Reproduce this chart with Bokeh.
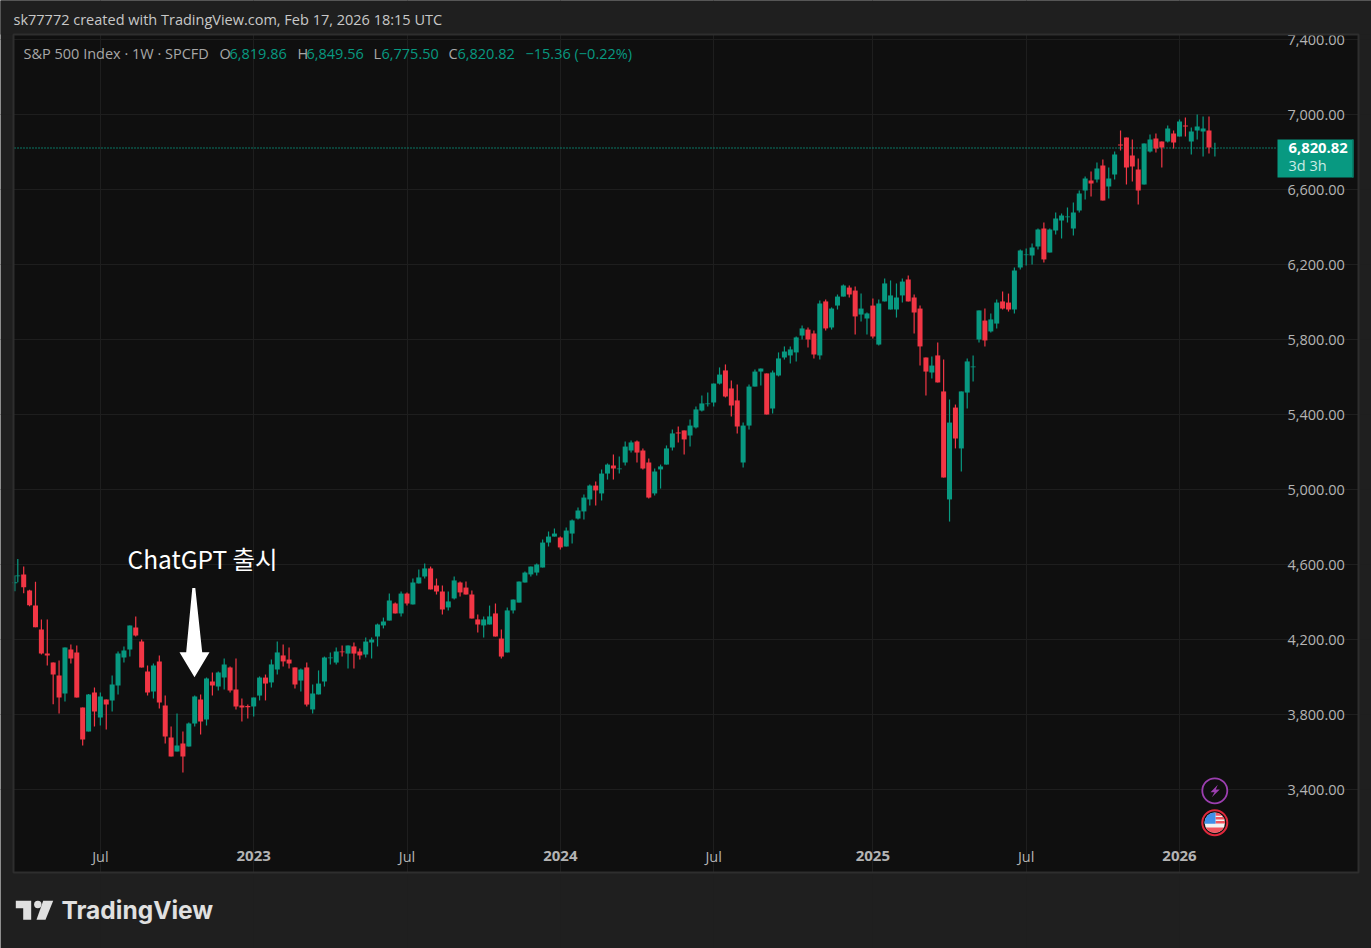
from bokeh.plotting import figure
from bokeh.embed import file_html
from bokeh.resources import INLINE
from bokeh.core.properties import value
from bokeh.models import LinearAxis, FixedTicker, NumeralTickFormatter, Range1d, Grid
import numpy as np

opens = [4500,4538,4547,4461,4381,4253,4125,4077,4008,3912,4147,4131,3837,3709,3917,3784,3880,3875,3955,4104,
4147,4264,4189,4029,3923,4083,3848,3677,3603,3645,3629,3752,3880,3773,3976,3949,3997,4051,3933,3848,
3846,3843,3901,3997,3971,4040,4115,4093,4051,3981,4051,3827,3907,3976,4100,4077,4136,4125,4163,4136,
4120,4184,4216,4275,4301,4392,4339,4445,4387,4499,4536,4579,4488,4456,4371,4419,4504,4477,4440,4307,
4275,4280,4339,4205,4131,4355,4397,4504,4547,4557,4584,4717,4749,4744,4696,4765,4845,4883,4947,5021,
4979,5085,5128,5108,5144,5208,5256,5208,5144,4979,5107,5133,5224,5304,5315,5288,5331,5421,5455,5464,
5565,5635,5539,5475,5144,5341,5549,5629,5619,5432,5608,5704,5715,5731,5821,5853,5832,5715,6003,5864,
5981,6029,6077,6061,5933,5912,5981,5773,6003,5960,5960,6035,6120,6024,5965,5704,5624,5715,5523,4947,
5437,5219,5517,5652,5800,5901,5843,5885,6003,5997,5960,6184,6250,6248,6296,6392,6264,6381,6435,6452,
6392,6488,6595,6648,6653,6728,6616,6680,6840,6877,6781,6707,6627,6803,6872,6856,6856,6899,6883,6941,
6856,6915,6909,6915,6819.86]
highs = [4541,4630,4589,4465,4508,4307,4307,4077,4088,4157,4173,4168,3837,3910,3944,3917,3880,4008,4136,4163,
4275,4323,4200,4061,4072,4115,3901,3736,3805,3709,3757,3901,3907,3997,4024,4029,4099,4056,4099,3885,
3853,3891,4003,4013,4093,4189,4173,4157,4051,4045,4077,3960,4035,4109,4131,4157,4168,4168,4184,4152,
4211,4211,4285,4317,4445,4397,4456,4451,4525,4573,4605,4589,4525,4488,4456,4536,4509,4509,4461,4333,
4323,4381,4392,4253,4371,4413,4509,4563,4589,4605,4733,4776,4792,4749,4797,4840,4904,4973,5027,5043,
5107,5139,5187,5176,5256,5261,5261,5219,5165,5112,5133,5235,5320,5336,5315,5373,5443,5501,5517,5565,
5651,5667,5581,5560,5357,5560,5640,5645,5619,5635,5731,5763,5763,5816,5875,5864,5848,6008,6013,5971,
6040,6093,6088,6083,6045,5944,6019,6013,6125,6115,6099,6125,6141,6040,5981,5704,5709,5784,5693,5480,
5453,5523,5699,5715,5955,5965,5939,6013,6056,6045,6184,6280,6285,6312,6392,6424,6392,6477,6472,6504,
6531,6595,6669,6696,6744,6760,6717,6803,6915,6877,6867,6765,6845,6893,6899,6856,6941,6915,6973,6984,
6931,7000,6989,6989,6849.56]
lows = [4458,4506,4447,4378,4266,4120,4061,3855,3805,3869,4072,3891,3635,3709,3736,3741,3720,3816,3907,4077,
4109,4216,4051,3901,3885,3832,3645,3576,3603,3491,3629,3736,3693,3741,3901,3928,3933,3917,3827,3763,
3779,3789,3875,3875,3944,4013,4056,4045,3939,3923,3843,3805,3907,3949,4067,4067,4109,4045,4045,4093,
4104,4099,4163,4259,4301,4339,4323,4381,4387,4499,4525,4467,4440,4333,4355,4413,4429,4440,4312,4237,
4211,4280,4216,4099,4131,4339,4397,4504,4536,4541,4584,4696,4749,4680,4696,4712,4840,4840,4915,4915,
4941,5053,5053,5085,5128,5197,5144,5107,4952,4968,5005,5133,5208,5251,5187,5229,5325,5416,5443,5443,
5560,5491,5389,5299,5117,5320,5549,5555,5400,5405,5603,5693,5672,5683,5800,5757,5699,5693,5848,5853,
5960,6029,6024,5827,5896,5827,5805,5768,6003,5960,5917,5997,6003,5832,5661,5501,5592,5571,5064,4829,
5219,5096,5432,5576,5784,5763,5837,5859,5960,5949,5939,6173,6195,6200,6280,6211,6264,6360,6339,6424,
6355,6477,6547,6563,6637,6541,6552,6653,6808,6627,6643,6520,6627,6797,6797,6717,6851,6819,6883,6883,
6787,6867,6776,6792,6775.50]
closes = [4505,4542,4479,4383,4266,4125,4115,4013,3891,4157,4099,3891,3667,3907,3816,3896,3853,3960,4125,4141,
4275,4221,4051,3917,4061,3864,3683,3576,3635,3576,3752,3896,3763,3992,3955,4024,4067,3928,3843,3837,
3839,3891,3997,3965,4067,4131,4083,4072,3960,4040,3853,3912,3965,4104,4104,4136,4132,4168,4125,4115,
4189,4200,4280,4296,4408,4339,4445,4392,4504,4531,4579,4467,4456,4360,4403,4515,4451,4440,4312,4280,
4307,4323,4216,4109,4355,4413,4509,4557,4589,4600,4717,4749,4765,4691,4781,4835,4888,4957,5021,4995,
5085,5133,5112,5112,5229,5251,5197,5112,4957,5096,5123,5219,5299,5299,5267,5341,5427,5459,5459,5565,
5613,5496,5448,5336,5341,5549,5629,5645,5400,5624,5699,5736,5747,5811,5859,5800,5720,5992,5859,5965,
6029,6088,6040,5923,5965,5939,5816,5992,6099,6035,6024,6109,6003,5944,5763,5629,5661,5571,5064,5357,
5272,5523,5683,5656,5955,5795,5907,5997,5965,5960,6168,6275,6253,6291,6387,6227,6387,6445,6461,6456,
6477,6579,6659,6632,6712,6541,6659,6787,6835,6717,6723,6595,6845,6867,6819,6824,6925,6851,6963,6936,
6909,6936,6925,6824,6820.82]

last_price = 6820.82
price_ticks = [3400,3800,4200,4600,5000,5400,5800,6200,6600,7000,7400]
month_ticks = [15,67,119,172]
month_labels = ["Jul","Jul","Jul","Jul"]
year_ticks = [41,93,146,198]
year_labels = ["2023","2024","2025","2026"]
# the first bar is cut by the left edge of the pane
bars = [0.5] + list(range(1, len(opens)))

UP, DOWN = "#089981", "#F23645"
PAGE, PANE, EDGE, GRID, TXT = "#1f1f1f", "#0f0f0f", "#2e2e2e", "#1e1e1e", "#b4b4b4"
W, H = 1371, 948
FONT = "Open Sans"

def X(px):  # page pixel to bar index
    return 1 + (px - 17.3) / 5.897
def Y(py):  # page pixel to price
    return 7000 - (py - 114) * 400 / 75

p = figure(width=W, height=H, output_backend="svg", toolbar_location=None,
           x_range=Range1d(X(0), X(W)), y_range=Range1d(Y(H), Y(0)),
           x_axis_type=None, y_axis_type=None, min_border=0,
           background_fill_color=PAGE, border_fill_color=PAGE, outline_line_color=None)
p.grid.visible = False

# pane
p.quad(left=[X(13)], right=[X(1358)], top=[Y(34)], bottom=[Y(872)], fill_color=PANE,
       line_color=None, level="image")

# axes and grid
yax = LinearAxis(fixed_location=X(1276), ticker=FixedTicker(ticks=price_ticks),
                 formatter=NumeralTickFormatter(format="0,0.00"))
mx = LinearAxis(fixed_location=Y(842), ticker=FixedTicker(ticks=month_ticks),
                major_label_overrides=dict(zip(month_ticks, month_labels)))
yx = LinearAxis(fixed_location=Y(842), ticker=FixedTicker(ticks=year_ticks),
                major_label_overrides=dict(zip(year_ticks, year_labels)))
for a, side in ((yax, "right"), (mx, "below"), (yx, "below")):
    a.axis_line_color = None
    a.major_tick_line_color = None
    a.minor_tick_line_color = None
    a.major_label_text_color = TXT
    a.major_label_text_font = FONT
    a.major_label_text_font_size = "14.5px"
    p.add_layout(a, side)
yax.major_label_standoff = 5
mx.major_label_standoff = -2
yx.major_label_standoff = 2
yx.major_label_text_font_style = "bold"
yx.major_label_text_font_size = "15px"

gy = Grid(dimension=1, ticker=FixedTicker(ticks=price_ticks), grid_line_color=GRID, bounds=(X(14), X(1276)))
gx = Grid(dimension=0, ticker=FixedTicker(ticks=month_ticks + year_ticks), grid_line_color=GRID, bounds=(Y(837), Y(35)))
p.add_layout(gy)
p.add_layout(gx)

# last price line
p.line([X(14), X(1276)], [last_price, last_price], line_color=UP, line_width=1.5, line_dash="1 2")

# candles
colors = [UP if c >= o else DOWN for o, c in zip(opens, closes)]
p.segment(bars, highs, bars, lows, line_color=colors, line_width=1.2)
p.vbar(x=bars, width=0.85, top=[max(o, c) for o, c in zip(opens, closes)],
       bottom=[min(o, c) for o, c in zip(opens, closes)], fill_color=colors, line_color=None)

# cover above / frame of the pane
p.quad(left=[X(0)], right=[X(W)], top=[Y(0)], bottom=[Y(34)], fill_color=PAGE, line_color=None, level="overlay")
p.quad(left=[X(13)], right=[X(1358)], top=[Y(34)], bottom=[Y(872)], fill_color=None,
       line_color=EDGE, line_width=2, level="overlay")

def text(px, py, s, color=TXT, size=14.5, style="normal", font=FONT, align="left"):
    p.text([X(px)], [Y(py)], text=[s], text_color=color, text_font=value(font), text_font_size=f"{size}px",
           text_font_style=style, text_baseline="middle", text_align=align, level="overlay")

# header and legend
text(13, 19, "sk77772 created with TradingView.com, Feb 17, 2026 18:15 UTC", "#c8c8c8")
text(23, 53, "S&P 500 Index \u00b7 1W \u00b7 SPCFD", "#a8a8a8")
for x, s in ((219, "O"), (297, "H"), (373, "L"), (448, "C")):
    text(x, 53, s, "#a8a8a8")
for x, s in ((229, "6,819.86"), (306, "6,849.56"), (381, "6,775.50"), (457, "6,820.82"), (525, "\u221215.36 (\u22120.22%)")):
    text(x, 53, s, UP)

# annotation
text(127, 558, "ChatGPT 출시", "#ffffff", 24.5, font="Noto Sans CJK KR")
arrow_x = [191.8, 194.8, 201.7, 209, 194, 179, 185.7]
arrow_y = [587.5, 587.5, 651.7, 651.7, 676.7, 651.7, 651.7]
p.patch([X(v) for v in arrow_x], [Y(v) for v in arrow_y], fill_color="#ffffff", line_color=None)

# price badge
p.quad(left=[X(1277)], right=[X(1353)], top=[Y(139)], bottom=[Y(177)], fill_color=UP, line_color=None, level="overlay")
p.quad(left=[X(1351.7)], right=[X(1353)], top=[Y(139)], bottom=[Y(177)], fill_color="#067a66", line_color=None, level="overlay")
text(1288, 147, "6,820.82", "#ffffff", 14.8, "bold")
text(1288, 165, "3d 3h", "#c9ece5", 14.5)

# event icons
p.scatter([X(1214.3)], [Y(790.3)], size=25, marker="circle", fill_color=PANE, line_color="#9c3fb0", line_width=1.8)
bx = [1217.3, 1210, 1214, 1211.3, 1219.3, 1215.3]
by = [784.3, 791.7, 791.7, 796.7, 789, 789]
p.patch([X(v) for v in bx], [Y(v) for v in by], fill_color="#9c3fb0", line_color=None)
p.scatter([X(1214.3)], [Y(822.2)], size=25, marker="circle", fill_color=PANE, line_color="#e0283c", line_width=2)
fx, fy, r = 1214.3, 822.2, 10.2
p.scatter([X(fx)], [Y(fy)], size=2 * r, marker="circle", fill_color="#f2f2f2", line_color=None)
def band(y0, y1, x0=None, color="#f0555f"):
    ys = np.linspace(y0, y1, 12)
    half = np.sqrt(np.maximum(r ** 2 - (ys - fy) ** 2, 0))
    lx = fx - half if x0 is None else np.maximum(fx - half, x0)
    rx = fx + half
    p.patch([X(v) for v in list(lx) + list(rx[::-1])], [Y(v) for v in list(ys) + list(ys[::-1])],
            fill_color=color, line_color=None)
band(812.3, 815.2, 1215)
band(816.5, 819, 1215)
band(820.5, 823, 1215)
band(827, 832.3)
ys = np.linspace(812.3, 823.2, 12)
half = np.sqrt(np.maximum(r ** 2 - (ys - fy) ** 2, 0))
lx = fx - half
p.patch([X(v) for v in list(lx) + [1215, 1215]], [Y(v) for v in list(ys) + [823.2, 812.3]],
        fill_color="#3f8fe8", line_color=None)

# logo
p.patch([X(v) for v in [15.3, 30.7, 30.7, 22.7, 22.7, 15.3]], [Y(v) for v in [900.3, 900.3, 919.3, 919.3, 907.7, 907.7]],
        fill_color="#e0e0e0", line_color=None)
p.scatter([X(37.3)], [Y(904)], size=7.4, marker="circle", fill_color="#e0e0e0", line_color=None)
p.patch([X(v) for v in [42.7, 52.7, 45, 36]], [Y(v) for v in [900.3, 900.3, 919.3, 919.3]],
        fill_color="#e0e0e0", line_color=None)
text(61, 909, "TradingView", "#e0e0e0", 24.5, "bold", "Inter")

html = file_html(p, INLINE)
open("out.html", "w").write(html)
